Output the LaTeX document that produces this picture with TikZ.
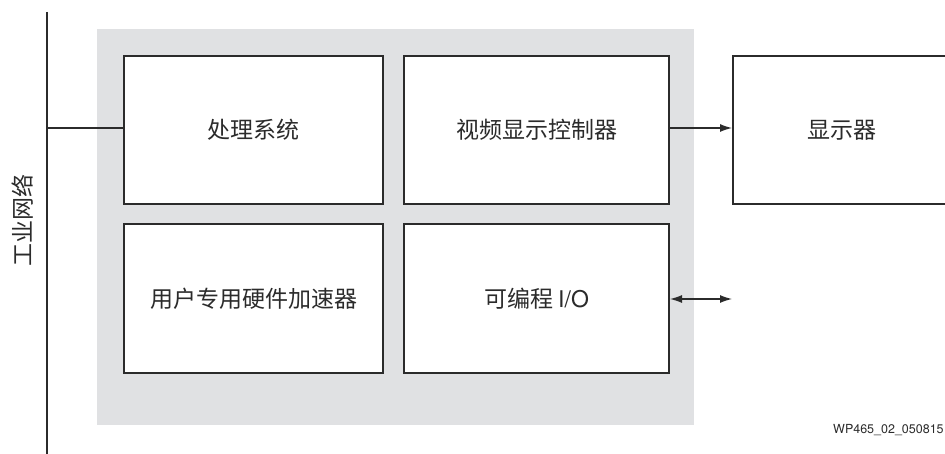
\documentclass[tikz,border=0pt]{standalone}
\usepackage{fontspec}
\setmainfont{Noto Sans CJK SC}
\newfontfamily\latinfont{TeX Gyre Heros}
\usetikzlibrary{arrows.meta}
\definecolor{linecol}{HTML}{2B2B2B}
\definecolor{panel}{HTML}{E0E1E3}
\tikzset{
  block/.style={draw=linecol, line width=2pt, fill=white, minimum width=259pt, minimum height=148pt, inner sep=0pt, font=\fontsize{23}{26}\selectfont, text=linecol},
  conn/.style={draw=linecol, line width=1.2pt},
  tip/.style={-{Latex[length=12pt,width=8pt]}},
  dtip/.style={{Latex[length=12pt,width=8pt]}-{Latex[length=12pt,width=8pt]}}
}
\begin{document}
\begin{tikzpicture}[x=1pt,y=-1pt]
\useasboundingbox (0,0) rectangle (945,454);
\clip (0,0) rectangle (945,454);
\fill[panel] (97,29) rectangle (694,425);
\node[block] (ps) at (253.5,130) {处理系统};
\node[block, minimum width=265pt] (vdc) at (536.5,130) {视频显示控制器};
\node[block] (acc) at (253.5,298.5) {用户专用硬件加速器};
\node[block, minimum width=265pt] (io) at (536.5,298.5) {可编程 {\latinfont I/O}};
\node[block, minimum width=218pt] (disp) at (842,130) {显示器};
\coordinate (bustop) at (47,12);
\coordinate (busbot) at (47,454);
\draw[conn, line width=2pt] (bustop) -- (busbot);
\draw[conn] (47,128) coordinate (tap) -- (ps.west |- tap);
\draw[conn, tip] (vdc.east |- tap) -- (disp.west |- tap);
\coordinate (ioy) at (0,299);
\draw[conn, dtip] (io.east |- ioy) -- (disp.west |- ioy);
\node[rotate=90, font=\fontsize{23}{26}\selectfont, text=linecol] (net) at (23,221) {工业网络};
\node[anchor=base west, font=\latinfont\fontsize{12.5}{14}\selectfont, text=linecol, inner sep=0pt] (wp) at (833,433) {WP465\_02\_050815};
\end{tikzpicture}
\end{document}
